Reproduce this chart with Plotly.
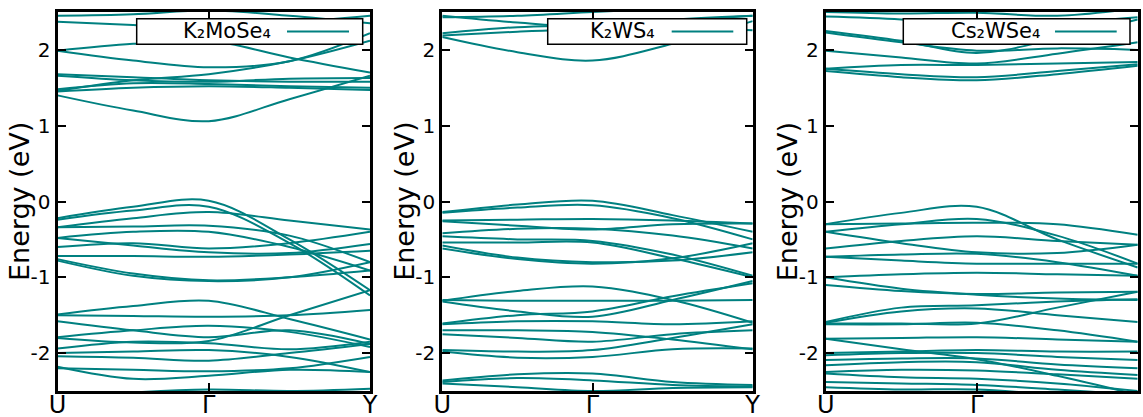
import plotly.graph_objects as go

# k-path positions (U, mid, Gamma, mid, Y) as fraction of path length
K_POS = [0.0, 0.242, 0.484, 0.742, 1.0]
K_TICKS = [0.0, 0.484, 1.0]
K_LABELS = ["U", "Γ", "Y"]
E_TICKS = [-2, -1, 0, 1, 2]
E_LABELS = ["-2", "-1", "0", "1", "2"]

NAMES = ["K₂MoSe₄", "K₂WS₄", "Cs₂WSe₄"]

# Energies (eV) at the K_POS points, one list per band
BANDS_K2MOSE4 = [
    # conduction
    [1.40, 1.20, 1.06, 1.35, 1.66],
    [1.45, 1.50, 1.52, 1.50, 1.47],
    [1.48, 1.56, 1.55, 1.52, 1.50],
    [1.66, 1.60, 1.58, 1.62, 1.63],
    [1.46, 1.60, 1.68, 1.85, 2.12],
    [1.99, 1.86, 1.77, 1.85, 2.22],
    [1.99, 2.08, 2.12, 1.90, 1.70],
    [1.68, 1.64, 1.60, 1.58, 1.58],
    [2.37, 2.33, 2.30, 2.36, 2.45],
    [2.45, 2.47, 2.52, 2.45, 2.35],
    # valence
    [-0.22, -0.07, 0.01, -0.50, -1.17],
    [-0.24, -0.12, -0.07, -0.55, -1.24],
    [-0.34, -0.22, -0.14, -0.25, -0.37],
    [-0.34, -0.33, -0.32, -0.45, -0.80],
    [-0.48, -0.40, -0.40, -0.60, -0.91],
    [-0.60, -0.55, -0.62, -0.55, -0.40],
    [-0.48, -0.58, -0.67, -0.68, -0.56],
    [-0.72, -0.72, -0.73, -0.70, -0.65],
    [-0.76, -0.95, -1.04, -1.00, -0.91],
    [-0.78, -0.98, -1.05, -1.00, -0.80],
    [-1.49, -1.38, -1.31, -1.55, -1.82],
    [-1.50, -1.51, -1.52, -1.50, -1.43],
    [-1.58, -1.70, -1.79, -1.70, -1.88],
    [-1.79, -1.70, -1.64, -1.72, -1.92],
    [-1.80, -1.86, -1.84, -1.50, -1.17],
    [-1.94, -1.85, -1.87, -1.95, -1.85],
    [-2.00, -1.98, -1.96, -2.05, -2.25],
    [-2.04, -2.06, -2.10, -2.00, -1.88],
    [-2.18, -2.34, -2.30, -2.22, -2.25],
    [-2.20, -2.22, -2.24, -2.20, -2.05],
    [-2.60, -2.52, -2.48, -2.50, -2.47],
]

BANDS_K2WS4 = [
    # conduction
    [2.17, 1.97, 1.86, 2.08, 2.38],
    [2.19, 2.24, 2.28, 2.30, 2.26],
    [2.22, 2.30, 2.33, 2.40, 2.45],
    [2.45, 2.36, 2.30, 2.38, 2.45],
    [2.43, 2.45, 2.50, 2.55, 2.60],
    # valence
    [-0.14, -0.04, 0.01, -0.18, -0.40],
    [-0.15, -0.08, -0.05, -0.22, -0.50],
    [-0.25, -0.24, -0.23, -0.25, -0.29],
    [-0.26, -0.32, -0.37, -0.30, -0.29],
    [-0.42, -0.36, -0.36, -0.45, -0.62],
    [-0.46, -0.50, -0.52, -0.70, -0.98],
    [-0.54, -0.54, -0.54, -0.75, -1.00],
    [-0.58, -0.74, -0.80, -0.78, -0.67],
    [-0.62, -0.76, -0.82, -0.75, -0.55],
    [-1.31, -1.18, -1.12, -1.30, -1.60],
    [-1.30, -1.31, -1.31, -1.31, -1.30],
    [-1.32, -1.45, -1.52, -1.30, -1.05],
    [-1.61, -1.50, -1.45, -1.25, -1.08],
    [-1.62, -1.58, -1.58, -1.62, -1.58],
    [-1.70, -1.70, -1.72, -1.82, -1.95],
    [-1.75, -1.80, -1.85, -1.75, -1.70],
    [-1.96, -1.98, -1.96, -1.80, -1.62],
    [-1.98, -2.06, -2.05, -1.95, -1.94],
    [-2.36, -2.28, -2.27, -2.38, -2.42],
    [-2.38, -2.33, -2.36, -2.42, -2.44],
    [-2.40, -2.45, -2.50, -2.46, -2.45],
]

BANDS_CS2WSE4 = [
    # conduction
    [1.72, 1.64, 1.60, 1.68, 1.79],
    [1.75, 1.68, 1.64, 1.72, 1.81],
    [1.75, 1.80, 1.80, 1.82, 1.84],
    [1.99, 1.90, 1.82, 1.95, 2.10],
    [2.23, 2.10, 1.99, 2.02, 2.00],
    [2.25, 2.12, 1.96, 2.15, 2.40],
    [2.44, 2.40, 2.30, 2.35, 2.43],
    [2.50, 2.48, 2.49, 2.45, 2.55],
    # valence
    [-0.30, -0.15, -0.07, -0.50, -0.87],
    [-0.40, -0.30, -0.23, -0.45, -0.82],
    [-0.30, -0.29, -0.28, -0.30, -0.44],
    [-0.62, -0.52, -0.46, -0.52, -0.57],
    [-0.40, -0.55, -0.67, -0.68, -0.57],
    [-0.73, -0.70, -0.69, -0.80, -0.98],
    [-0.73, -0.78, -0.82, -0.82, -0.82],
    [-1.00, -0.96, -0.94, -0.96, -0.98],
    [-1.10, -1.18, -1.22, -1.20, -1.19],
    [-1.00, -1.15, -1.23, -1.28, -1.30],
    [-1.59, -1.40, -1.37, -1.32, -1.29],
    [-1.60, -1.45, -1.41, -1.50, -1.59],
    [-1.61, -1.61, -1.61, -1.40, -1.19],
    [-1.62, -1.62, -1.60, -1.70, -1.85],
    [-1.81, -1.80, -1.79, -1.82, -1.85],
    [-2.00, -1.98, -1.96, -1.98, -1.98],
    [-2.03, -2.00, -2.00, -2.05, -2.09],
    [-2.09, -2.07, -2.07, -2.15, -2.20],
    [-2.16, -2.12, -2.12, -2.22, -2.29],
    [-2.25, -2.22, -2.23, -2.28, -2.34],
    [-2.27, -2.32, -2.34, -2.40, -2.50],
    [-2.38, -2.40, -2.42, -2.48, -2.55],
    [-2.45, -2.48, -2.48, -2.55, -2.60],
    [-1.81, -1.95, -2.08, -2.30, -2.55],
]

ALL_BANDS = [BANDS_K2MOSE4, BANDS_K2WS4, BANDS_CS2WSE4]

COLOR = "#008080"
FONT = "DejaVu Sans"
W, H = 1143, 417
DOMAINS = [(57.5, 370.0), (442.3, 752.7), (825.7, 1137.7)]
LEG_BOX = [(0.2534, 0.9766), (0.3396, 0.9807), (0.2487, 0.9753)]
LEG_LINE = [(0.7344, 0.9328), (0.739, 0.9375), (0.7349, 0.9327)]
LEG_TEXT_X = [0.6896, 0.6905, 0.6923]

fig = go.Figure()
shapes = []
annotations = []
for i, bands in enumerate(ALL_BANDS):
    xa = "x" if i == 0 else f"x{i+1}"
    ya = "y" if i == 0 else f"y{i+1}"
    for b in bands:
        fig.add_trace(go.Scatter(
            x=K_POS, y=b, mode="lines", xaxis=xa, yaxis=ya,
            line=dict(color=COLOR, width=2, shape="spline", smoothing=1.0),
            showlegend=False, hoverinfo="skip"))
    d0, d1 = DOMAINS[i]
    axkey = "xaxis" if i == 0 else f"xaxis{i+1}"
    aykey = "yaxis" if i == 0 else f"yaxis{i+1}"
    fig.update_layout(**{
        axkey: dict(domain=[d0 / W, d1 / W], range=[0, 1], anchor=ya,
                    automargin=False, ticklabelstandoff=-10,
                    tickvals=K_TICKS, ticktext=K_LABELS, ticks="inside",
                    ticklen=8, tickwidth=2, tickcolor="black",
                    showline=True, linewidth=3, linecolor="black",
                    mirror="allticks", showgrid=False, zeroline=False,
                    tickfont=dict(family=FONT, size=24, color="black")),
        aykey: dict(domain=[0, 1], range=[-2.5, 2.5], anchor=xa,
                    automargin=False,
                    tickvals=E_TICKS, ticktext=E_LABELS, ticks="inside",
                    ticklen=8, tickwidth=2, tickcolor="black",
                    showline=True, linewidth=3, linecolor="black",
                    mirror="allticks", showgrid=False, zeroline=False,
                    tickfont=dict(family=FONT, size=20, color="black")),
    })
    xd = f"{xa} domain"
    yd = f"{ya} domain"
    bx0, bx1 = LEG_BOX[i]
    shapes.append(dict(type="rect", xref=xd, yref=yd, x0=bx0, x1=bx1,
                       y0=0.9148, y1=0.9823, fillcolor="white",
                       line=dict(color="black", width=1.5), layer="above"))
    lx0, lx1 = LEG_LINE[i]
    shapes.append(dict(type="line", xref=xd, yref=yd, x0=lx0, x1=lx1,
                       y0=0.9486, y1=0.9486, line=dict(color=COLOR, width=2),
                       layer="above"))
    annotations.append(dict(xref=xd, yref=yd, x=LEG_TEXT_X[i], y=0.9486,
                            xanchor="right", yanchor="middle", showarrow=False,
                            text=NAMES[i],
                            font=dict(family=FONT, size=21, color="black")))
    annotations.append(dict(xref="paper", yref=yd, x=(d0 - 38) / W, y=0.5,
                            xanchor="center", yanchor="middle", showarrow=False,
                            text="Energy (eV)", textangle=-90,
                            font=dict(family=FONT, size=27, color="black")))

fig.update_layout(width=W, height=H, margin=dict(l=0, r=0, t=12, b=26),
                  paper_bgcolor="white", plot_bgcolor="white",
                  shapes=shapes, annotations=annotations, showlegend=False)
fig.write_html("out.html")
